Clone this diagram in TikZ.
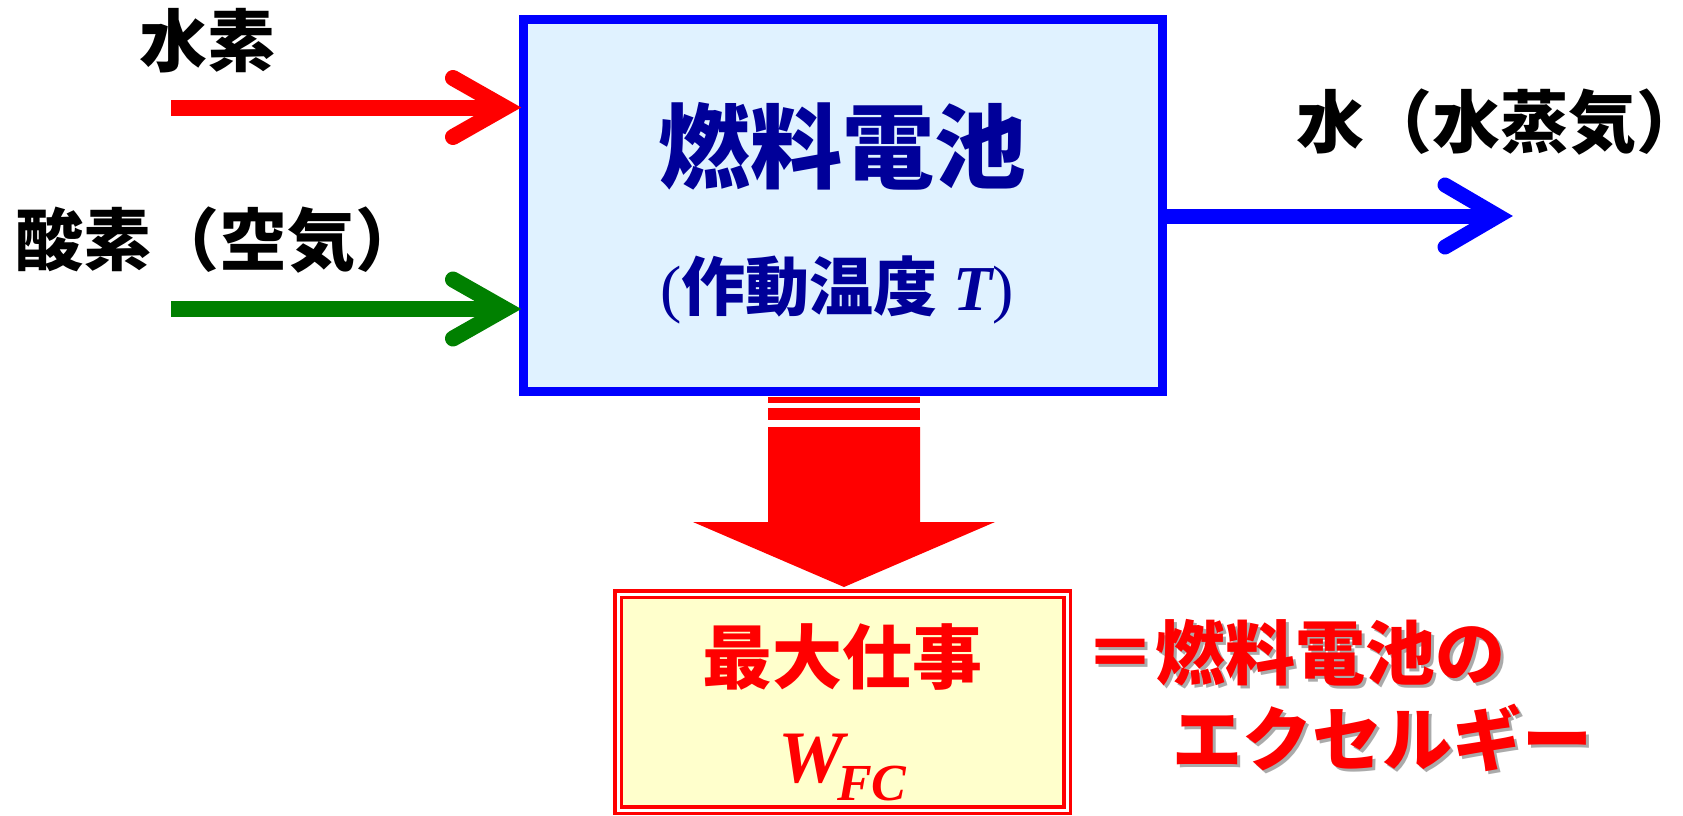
\documentclass[tikz,border=0pt]{standalone}
\usepackage{fontspec}
\newfontfamily\jp{Noto Sans CJK JP}
\newfontfamily\tnr{Liberation Serif}
\definecolor{fcbg}{RGB}{224,242,255}
\definecolor{wbg}{RGB}{255,255,204}
\definecolor{navy}{RGB}{0,0,153}
\definecolor{dgreen}{RGB}{0,128,0}
\definecolor{shadowgray}{RGB}{170,170,170}
\tikzset{
  jpL/.style={inner sep=0pt, font=\jp\bfseries\fontsize{68pt}{68pt}\selectfont},
  jpR/.style={inner sep=0pt, font=\jp\bfseries\fontsize{70pt}{70pt}\selectfont},
  flow/.style={line width=#1, line cap=butt},
  chev/.style={line width=#1, line cap=round, line join=miter},
}
\begin{document}
\begin{tikzpicture}[x=1pt,y=-1pt]
\useasboundingbox (0,0) rectangle (1683,815);

% fuel cell box
\node[draw=blue, line width=9pt, fill=fcbg, minimum width=639pt, minimum height=372pt, inner sep=0pt] (fc) at (842.5,205) {};
\node[inner sep=0pt, text=navy, font=\jp\bfseries\fontsize{92pt}{92pt}\selectfont] (fctitle) at (842,146) {燃料電池};
\node[anchor=base west, inner sep=0pt, text=navy, font=\fontsize{64pt}{64pt}\selectfont] (fctemp) at (660,310)
  {{\tnr(}{\jp\bfseries 作動温度}{\tnr\ \bfseries\itshape T\mdseries\upshape)}};

% inputs
\node[jpL] (h2lbl) at (207,41) {水素};
\node[jpL, anchor=west] (o2lbl) at (15,240) {酸素（空気）};
\coordinate (h2s) at (171,107.5);
\coordinate (h2t) at (505,107.5);
\draw[red, flow=16pt] (h2s) -- (h2t);
\draw[red, chev=16pt] ([shift={(-52,-29.5)}]h2t) -- (h2t) -- ([shift={(-52,29.5)}]h2t);
\coordinate (o2s) at (171,309);
\coordinate (o2t) at (505,309);
\draw[dgreen, flow=16pt] (o2s) -- (o2t);
\draw[dgreen, chev=16pt] ([shift={(-52,-29.5)}]o2t) -- (o2t) -- ([shift={(-52,29.5)}]o2t);

% output
\node[jpL, anchor=west] (h2olbl) at (1296,122) {水（水蒸気）\kern-34pt};
\coordinate (h2ot) at (1498,216);
\draw[blue, flow=15pt] (fc.east |- h2ot) -- (h2ot);
\draw[blue, chev=15pt] ([shift={(-53,-31)}]h2ot) -- (h2ot) -- ([shift={(-53,31)}]h2ot);

% big arrow
\fill[red] (768,397) rectangle (920,403);
\fill[red] (768,408) rectangle (920,420);
\fill[red] (768,427) -- (920,427) -- (920,522) -- (995,522) -- (844,587) -- (693,522) -- (768,522) -- cycle;

% max work box
\node[draw=red, line width=3.5pt, double=white, double distance=3pt, fill=wbg, minimum width=449pt, minimum height=216pt, inner sep=0pt] (wbox) at (842.5,702) {};
\node[jpR, text=red] (wmax) at (842.5,657) {最大仕事};
\node[anchor=base west, inner sep=0pt, text=red, font=\tnr\bfseries\itshape] (wfc) at (778,782)
  {\fontsize{74pt}{74pt}\selectfont W\kern-7pt\raisebox{-18pt}{\fontsize{52pt}{52pt}\selectfont FC}};

% exergy text with shadow
\node[jpR, text=shadowgray, anchor=east] at (1509,656) {＝燃料電池の};
\node[jpR, text=red, anchor=east] (ex1) at (1506,653) {＝燃料電池の};
\node[jpR, text=shadowgray, anchor=east] at (1596,741) {エクセルギー};
\node[jpR, text=red, anchor=east] (ex2) at (1593,738) {エクセルギー};
\end{tikzpicture}
\end{document}
